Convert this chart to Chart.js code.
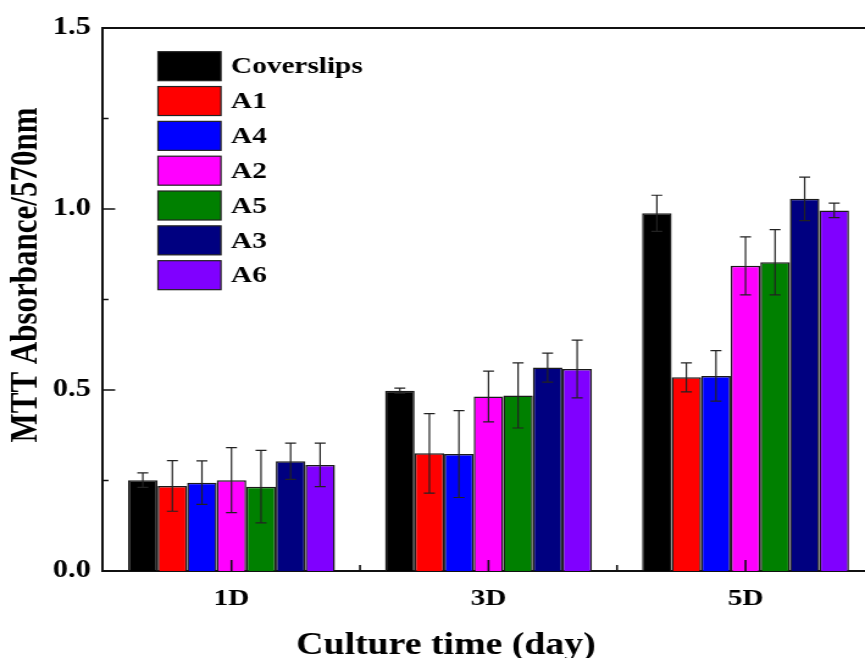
<!DOCTYPE html>
<html>
<head>
<meta charset="utf-8">
<script src="https://cdn.jsdelivr.net/npm/chart.js@4"></script>
<style>
  html, body { margin: 0; padding: 0; background: #fff; overflow: hidden; width: 865px; height: 658px; }
  /* the original figure is stretched sideways, so the whole canvas is too */
  #wrap { width: 720px; height: 658px; transform: scaleX(1.22); transform-origin: 0 0; }
</style>
</head>
<body>
<div id="wrap"><canvas id="mtt" width="720" height="658"></canvas></div>
<script>
// --- DATA ---
const days = ['1D', '3D', '5D'];
const groups = ['Coverslips', 'A1', 'A4', 'A2', 'A5', 'A3', 'A6'];
const groupColors = ['#000000', '#ff0000', '#0000ff', '#ff00ff', '#008000', '#000080', '#8000ff'];

const coverslips = [0.251, 0.498, 0.988];
const coverslipsErr = [0.02, 0.007, 0.05];
const a1 = [0.235, 0.325, 0.535];
const a1Err = [0.07, 0.11, 0.04];
const a4 = [0.244, 0.323, 0.539];
const a4Err = [0.06, 0.12, 0.07];
const a2 = [0.251, 0.482, 0.843];
const a2Err = [0.09, 0.07, 0.08];
const a5 = [0.233, 0.485, 0.853];
const a5Err = [0.10, 0.09, 0.09];
const a3 = [0.303, 0.562, 1.028];
const a3Err = [0.05, 0.04, 0.06];
const a6 = [0.293, 0.558, 0.996];
const a6Err = [0.06, 0.08, 0.02];

const yTicks = [0, 0.5, 1.0, 1.5];

const means = [coverslips, a1, a4, a2, a5, a3, a6];
const errs = [coverslipsErr, a1Err, a4Err, a2Err, a5Err, a3Err, a6Err];

const SERIF = '"Liberation Serif", "Times New Roman", serif';
const AXIS = '#111';

// --- PLUGINS ---
const errorBars = {
    id: 'errorBars',
    afterDatasetsDraw(chart) {
        const ctx = chart.ctx;
        const y = chart.scales.y;
        ctx.save();
        ctx.strokeStyle = '#222';
        ctx.lineWidth = 1.2;
        chart.data.datasets.forEach((ds, i) => {
            chart.getDatasetMeta(i).data.forEach((bar, j) => {
                const hi = y.getPixelForValue(ds.data[j] + ds.errors[j]);
                const lo = y.getPixelForValue(ds.data[j] - ds.errors[j]);
                const x = bar.x;
                ctx.beginPath();
                ctx.moveTo(x, hi); ctx.lineTo(x, lo);
                ctx.moveTo(x - 4.5, hi); ctx.lineTo(x + 4.5, hi);
                ctx.moveTo(x - 4.5, lo); ctx.lineTo(x + 4.5, lo);
                ctx.stroke();
            });
        });
        ctx.restore();
    }
};

const frameAndText = {
    id: 'frameAndText',
    afterDraw(chart) {
        const ctx = chart.ctx;
        const area = chart.chartArea;
        const x = chart.scales.x;
        const y = chart.scales.y;
        ctx.save();
        ctx.strokeStyle = AXIS;

        // top frame line
        ctx.lineWidth = 2;
        ctx.beginPath();
        ctx.moveTo(area.left, area.top);
        ctx.lineTo(area.right + 10, area.top);
        ctx.stroke();

        // inward ticks on y
        ctx.lineWidth = 1.6;
        ctx.beginPath();
        y.ticks.forEach((t, i) => {
            const py = y.getPixelForValue(t.value);
            ctx.moveTo(area.left, py); ctx.lineTo(area.left + 10, py);
            if (i < y.ticks.length - 1) {
                const pm = y.getPixelForValue((t.value + y.ticks[i + 1].value) / 2);
                ctx.moveTo(area.left, pm); ctx.lineTo(area.left + 4.5, pm);
            }
        });
        // inward ticks on x
        days.forEach((d, i) => {
            const px = x.getPixelForValue(i);
            ctx.moveTo(px, area.bottom); ctx.lineTo(px, area.bottom - 11);
            if (i < days.length - 1) {
                const pm = (px + x.getPixelForValue(i + 1)) / 2;
                ctx.moveTo(pm, area.bottom); ctx.lineTo(pm, area.bottom - 6);
            }
        });
        ctx.stroke();

        // legend
        ctx.font = 'bold 24px ' + SERIF;
        ctx.textBaseline = 'middle';
        ctx.textAlign = 'left';
        chart.data.datasets.forEach((ds, i) => {
            const top = 51.7 + i * 34.83;
            ctx.fillStyle = ds.backgroundColor;
            ctx.fillRect(129.5, top, 51.6, 29);
            ctx.lineWidth = 1.2;
            ctx.strokeStyle = '#222';
            ctx.strokeRect(129.5, top, 51.6, 29);
            ctx.fillStyle = '#000';
            ctx.fillText(ds.label, 189.3, top + 15.5);
        });

        // axis titles
        ctx.fillStyle = '#000';
        ctx.font = 'bold 31px ' + SERIF;
        ctx.textAlign = 'center';
        ctx.textBaseline = 'alphabetic';
        ctx.fillText('Culture time (day)', 365.6, 654);

        ctx.translate(29.5, 275);
        ctx.rotate(-Math.PI / 2);
        ctx.fillText('MTT Absorbance/570nm', 0, 0);
        ctx.restore();
    }
};

// --- CHART ---
const datasets = groups.map((name, i) => ({
    label: name,
    data: means[i],
    errors: errs[i],
    backgroundColor: groupColors[i],
    borderColor: '#1a1a1a',
    borderWidth: 1.5,
    categoryPercentage: 0.805,
    barPercentage: 1.0
}));

new Chart(document.getElementById('mtt'), {
    type: 'bar',
    data: { labels: days, datasets: datasets },
    options: {
        responsive: false,
        animation: false,
        layout: { padding: { left: 0, right: 3.6, top: 28, bottom: 0 } },
        plugins: {
            legend: { display: false },
            tooltip: { enabled: false }
        },
        scales: {
            x: {
                offset: true,
                grid: { display: false, drawTicks: false },
                border: { display: true, color: AXIS, width: 2 },
                ticks: {
                    padding: 13,
                    color: '#000',
                    font: { family: SERIF, size: 24, weight: 'bold' }
                },
                afterFit(scale) { scale.height = 87; }
            },
            y: {
                min: 0,
                max: 1.5,
                afterBuildTicks(scale) { scale.ticks = yTicks.map(v => ({ value: v })); },
                grid: { display: false, drawTicks: false },
                border: { display: true, color: AXIS, width: 2 },
                ticks: {
                    padding: 10,
                    color: '#000',
                    font: { family: SERIF, size: 25, weight: 'bold' },
                    callback: v => Number(v).toFixed(1)
                },
                afterFit(scale) { scale.width = 84.4; }
            }
        }
    },
    plugins: [errorBars, frameAndText]
});
</script>
</body>
</html>
